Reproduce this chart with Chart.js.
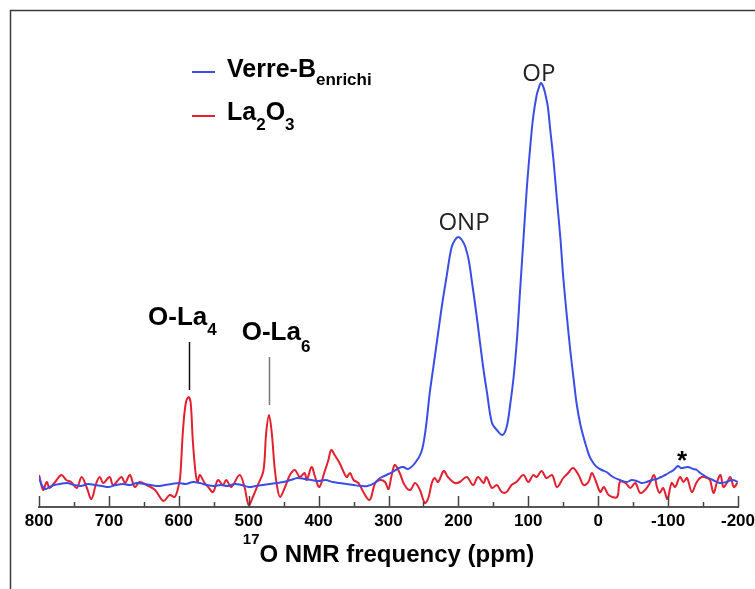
<!DOCTYPE html>
<html lang="en">
<head>
    <meta charset="UTF-8">
    <title>17O NMR spectra</title>
    <style>
        body { margin: 0; background: #ffffff; }
        #chartContainer { width: 755px; height: 589px; }
    </style>
</head>
<body>

<!-- Chart Container -->
<div id="chartContainer">
    <canvas id="nmrChart" width="755" height="589"></canvas>
</div>

<!-- Include Chart.js library -->
<script src="https://cdn.jsdelivr.net/npm/chart.js"></script>

<script>
    // Verre-B enrichi spectrum (ppm, intensity)
    const verreShift = [800, 796, 791, 785, 778, 770, 760, 750, 740, 730, 720, 710, 700, 690, 680, 670, 660, 650, 640, 630,
        620, 610, 600, 590, 580, 570, 560, 550, 540, 530, 520, 510, 500, 490, 480, 470, 460, 450, 440, 430,
        420, 410, 400, 390, 380, 370, 360, 350, 340, 330, 320, 312, 303, 294, 285, 279, 272, 262, 253, 247,
        241, 235, 229, 223, 217, 210, 205, 200, 195, 190, 185, 181, 175, 169, 164, 159, 152, 145, 137, 131,
        126, 121, 116, 112, 107, 102, 97, 93, 88, 85, 82, 79, 76, 72, 69, 64, 59, 54, 50, 45,
        40, 35, 31, 26, 21, 16, 12, 7, 2, -5, -12, -21, -31, -41, -48, -55, -62, -69, -77, -84,
        -90, -96, -103, -108, -114, -118, -121, -128, -136, -141, -146, -155, -164, -174, -183, -192, -200];
    const verreSignal = [8, 0, -4, -2, 0, 1, 2, 0, -1, 1, 0, -1, -2, 0, 1, 0, 2, 1, 0, -1,
        0, 1, 2, 1, 3, 2, 0, -1, 0, -1, 1, 0, -2, -1, 0, 1, 2, 3, 5, 7,
        6, 5, 4, 5, 3, 2, 1, 0, -1, -1, 2, 7, 10, 13, 17, 18, 16, 22, 33, 55,
        92, 122, 152, 182, 208, 237, 245, 248, 245, 238, 224, 205, 175, 142, 115, 92, 62, 55, 50, 58,
        80, 108, 148, 192, 245, 298, 340, 368, 390, 397, 402, 399, 392, 378, 358, 325, 285, 246, 208, 170,
        135, 105, 82, 62, 48, 36, 28, 22, 18, 15, 13, 8, 5, 3, 5, 4, 2, 3, 5, 6,
        8, 10, 13, 15, 19, 17, 17, 18, 16, 15, 12, 8, 5, 2, 3, 5, 3];

    // La2O3 spectrum (ppm, intensity)
    const laShift = [800, 794, 789, 785, 778, 768, 761, 754, 746, 739, 732, 725, 718, 713, 708, 699, 694, 682, 677, 670,
        663, 656, 646, 634, 622, 613, 606, 601, 598, 594, 590, 586, 583, 580, 576, 573, 570, 563, 558, 551,
        544, 537, 532, 525, 513, 506, 500, 494, 487, 479, 475, 471, 467, 463, 459, 455, 448, 441, 434, 427,
        420, 417, 410, 405, 399, 392, 386, 382, 377, 370, 360, 355, 350, 343, 336, 327, 319, 312, 305, 300,
        296, 291, 284, 277, 269, 262, 255, 248, 243, 238, 234, 229, 221, 215, 205, 198, 188, 179, 172, 164,
        160, 152, 145, 138, 131, 124, 117, 107, 100, 93, 88, 81, 74, 66, 59, 50, 43, 36, 28, 21,
        14, 9, 4, -3, -8, -15, -27, -31, -39, -46, -53, -60, -67, -74, -80, -84, -88, -93, -99, -105,
        -110, -117, -122, -127, -134, -141, -148, -156, -160, -165, -170, -175, -179, -184, -189, -194, -199];
    const laSignal = [10, -5, 3, -3, 2, 10, 5, 3, -3, 8, -2, -14, 2, 8, 2, 8, 0, 8, 2, 10,
        -2, 3, 0, -5, -16, -10, -12, -3, 8, 55, 82, 88, 82, 45, 12, 3, 10, 2, -2, -7,
        5, 0, 5, -2, 10, -2, -20, -12, 0, 14, 52, 70, 52, 18, -3, -12, -2, 10, 15, 8,
        12, 5, 18, 8, -2, 12, 25, 35, 30, 22, 8, 12, 5, 2, -7, -15, 2, 5, 3, -4,
        8, 20, 12, 0, -5, 2, -5, -18, -13, 2, 7, 3, 14, 8, 2, 3, 8, 0, 8, 2,
        8, -3, 0, -7, -7, 0, 3, 10, 3, 10, 8, 14, 7, 10, -2, 7, 12, 17, 10, 0,
        3, 12, 5, -7, -2, -10, -12, 3, 2, -3, 2, -8, -5, 2, 10, -2, -8, -3, -14, 2,
        -2, 8, 3, 7, -7, 3, 8, 7, 5, -8, 3, 10, -2, 2, 8, -2, 2];

    // x axis ticks every 50 ppm, labels every 100
    const tickStep = 50;
    const labelStep = 100;

    const BLUE = '#3a4ee6';
    const RED = '#e3202e';
    const SANS = '"Liberation Sans", Arial, Helvetica, sans-serif';

    // draw a run of text pieces (for sub/superscripts), left aligned
    function drawPieces(ctx, pieces, x, y) {
        pieces.forEach(p => {
            ctx.font = p.font;
            ctx.fillText(p.text, x, y + (p.dy || 0));
            x += ctx.measureText(p.text).width;
        });
        return x;
    }

    function piecesWidth(ctx, pieces) {
        let w = 0;
        pieces.forEach(p => {
            ctx.font = p.font;
            w += ctx.measureText(p.text).width;
        });
        return w;
    }

    const decorations = {
        id: 'decorations',
        beforeDraw(chart) {
            // thin frame around the figure (top and left visible)
            const ctx = chart.ctx;
            ctx.save();
            ctx.strokeStyle = '#3c3c3c';
            ctx.lineWidth = 1.5;
            ctx.beginPath();
            ctx.moveTo(10.5, chart.height);
            ctx.lineTo(10.5, 10.5);
            ctx.lineTo(chart.width, 10.5);
            ctx.stroke();
            ctx.restore();
        },
        afterDraw(chart) {
            const ctx = chart.ctx;
            const xs = chart.scales.x;
            const ys = chart.scales.y;
            const area = chart.chartArea;
            ctx.save();
            ctx.fillStyle = '#000';
            ctx.textAlign = 'left';
            ctx.textBaseline = 'alphabetic';

            // inward tick marks
            ctx.strokeStyle = '#444';
            ctx.lineWidth = 1.5;
            xs.ticks.forEach(t => {
                const px = Math.round(xs.getPixelForValue(t.value)) + 0.5;
                const len = t.value % labelStep === 0 ? 11 : 5;
                ctx.beginPath();
                ctx.moveTo(px, area.bottom);
                ctx.lineTo(px, area.bottom - len);
                ctx.stroke();
            });

            // axis title with superscript mass number
            const title = [
                { text: '17', font: 'bold 15px ' + SANS, dy: -18 },
                { text: 'O NMR frequency (ppm)', font: 'bold 24px ' + SANS }
            ];
            const tw = piecesWidth(ctx, title);
            drawPieces(ctx, title, (area.left + area.right) / 2 - tw / 2, area.bottom + 55);

            // legend
            ctx.lineWidth = 2;
            ctx.strokeStyle = BLUE;
            ctx.beginPath(); ctx.moveTo(192, 72); ctx.lineTo(215, 72); ctx.stroke();
            ctx.strokeStyle = RED;
            ctx.beginPath(); ctx.moveTo(192, 116); ctx.lineTo(215, 116); ctx.stroke();
            drawPieces(ctx, [
                { text: 'Verre-B', font: 'bold 25px ' + SANS },
                { text: 'enrichi', font: 'bold 17px ' + SANS, dy: 8 }
            ], 227, 77);
            drawPieces(ctx, [
                { text: 'La', font: 'bold 25px ' + SANS },
                { text: '2', font: 'bold 17px ' + SANS, dy: 10 },
                { text: 'O', font: 'bold 25px ' + SANS },
                { text: '3', font: 'bold 17px ' + SANS, dy: 10 }
            ], 227, 120);

            // site labels on the La2O3 peaks
            drawPieces(ctx, [
                { text: 'O-La', font: 'bold 26px ' + SANS },
                { text: '4', font: 'bold 17px ' + SANS, dy: 10 }
            ], xs.getPixelForValue(644), ys.getPixelForValue(160));
            drawPieces(ctx, [
                { text: 'O-La', font: 'bold 26px ' + SANS },
                { text: '6', font: 'bold 17px ' + SANS, dy: 12 }
            ], xs.getPixelForValue(510), ys.getPixelForValue(145));

            ctx.lineWidth = 1.5;
            ctx.strokeStyle = '#111';
            let px = Math.round(xs.getPixelForValue(586)) + 0.5;
            ctx.beginPath(); ctx.moveTo(px, ys.getPixelForValue(143)); ctx.lineTo(px, ys.getPixelForValue(95)); ctx.stroke();
            ctx.strokeStyle = '#777';
            px = Math.round(xs.getPixelForValue(471)) + 0.5;
            ctx.beginPath(); ctx.moveTo(px, ys.getPixelForValue(128)); ctx.lineTo(px, ys.getPixelForValue(80)); ctx.stroke();

            // glass peak labels
            ctx.textAlign = 'center';
            ctx.fillStyle = '#222';
            ctx.font = '24px "Open Sans", "Noto Sans", sans-serif';
            ctx.fillText('ONP', xs.getPixelForValue(192), ys.getPixelForValue(255));
            ctx.fillText('OP', xs.getPixelForValue(85), ys.getPixelForValue(404));

            // spinning sideband marker
            ctx.fillStyle = '#000';
            ctx.font = 'bold 26px ' + SANS;
            ctx.fillText('*', xs.getPixelForValue(-120), ys.getPixelForValue(16));
            ctx.restore();
        }
    };

    const ctx = document.getElementById('nmrChart').getContext('2d');
    new Chart(ctx, {
        type: 'line',
        data: {
            datasets: [{
                label: 'Verre-B enrichi',
                data: verreShift.map((s, i) => ({ x: s, y: verreSignal[i] })),
                borderColor: BLUE,
                borderWidth: 2,
                pointRadius: 0,
                tension: 0.35,
                fill: false
            }, {
                label: 'La2O3',
                data: laShift.map((s, i) => ({ x: s, y: laSignal[i] })),
                borderColor: RED,
                borderWidth: 2,
                pointRadius: 0,
                tension: 0.35,
                fill: false
            }]
        },
        options: {
            responsive: false,
            animation: false,
            layout: { padding: { top: 10, left: 39, right: 17, bottom: 0 } },
            plugins: {
                legend: { display: false },
                tooltip: { enabled: false }
            },
            scales: {
                x: {
                    type: 'linear',
                    reverse: true,
                    min: -200,
                    max: 800,
                    grid: { display: false, drawTicks: false },
                    border: { display: true, color: '#555', width: 2 },
                    ticks: {
                        stepSize: tickStep,
                        autoSkip: false,
                        maxRotation: 0,
                        padding: 4,
                        color: '#000',
                        font: { family: SANS, size: 17, weight: 'bold' },
                        callback: v => (v % labelStep === 0 ? String(v) : '')
                    },
                    afterFit: scale => {
                        // let the end labels overhang the plot area like the original
                        scale.height = 82;
                        scale.paddingLeft = 0;
                        scale.paddingRight = 0;
                    }
                },
                y: {
                    display: false,
                    min: -22,
                    max: 475
                }
            }
        },
        plugins: [decorations]
    });
</script>

</body>
</html>
